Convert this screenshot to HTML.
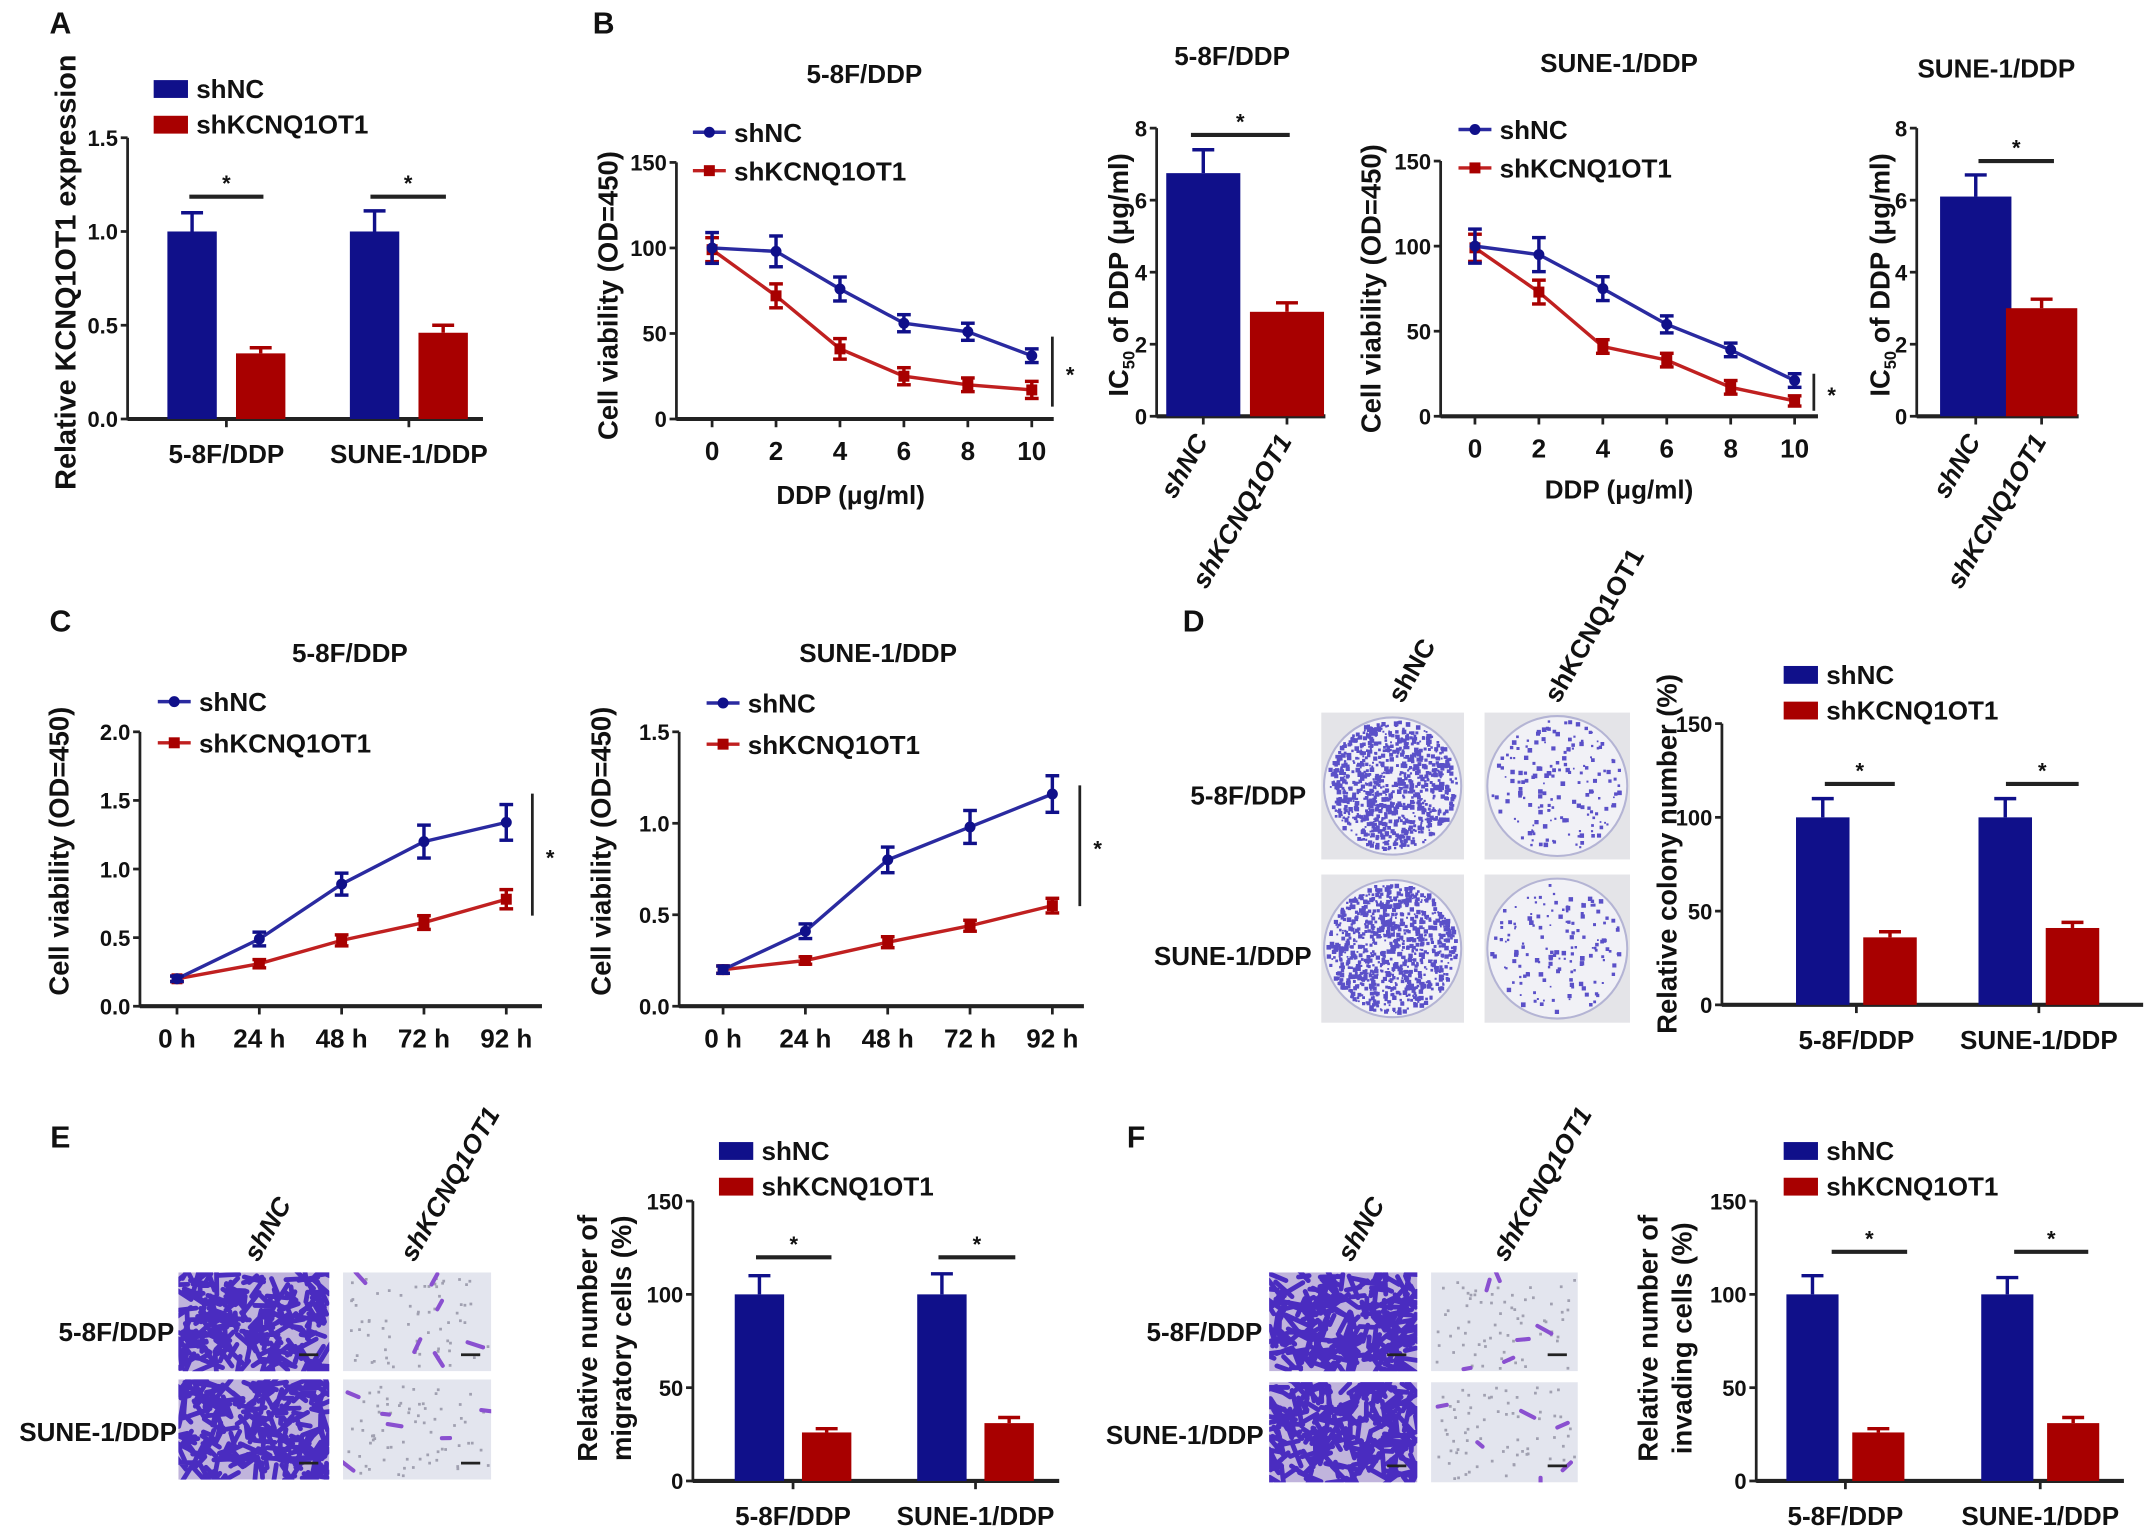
<!DOCTYPE html>
<html><head><meta charset="utf-8">
<style>
html,body{margin:0;padding:0;background:#fff;}
svg{display:block;}
text{font-family:"Liberation Sans Narrow","Liberation Sans",sans-serif;font-weight:bold;fill:#111;}
.wide{font-family:"Liberation Sans",sans-serif;}
</style></head>
<body>
<svg id="fig" xmlns="http://www.w3.org/2000/svg" width="2150" height="1535" viewBox="0 0 1567 1118">
<rect x="0" y="0" width="1567" height="1118" fill="#fff"/>
<defs id="defs"></defs>
</svg>
<script>
// ---------- DATA ----------
const groupLabels = ["5-8F/DDP","SUNE-1/DDP"];
const A_shNC = [1.0, 1.0];
const A_shNC_err = [0.10, 0.11];
const A_shK = [0.35, 0.46];
const A_shK_err = [0.03, 0.04];
const A_ticks = ["0.0","0.5","1.0","1.5"];

const B_dose = ["0","2","4","6","8","10"];
const B1_shNC = [100, 98, 76, 56, 51, 37];
const B1_shNC_err = [9, 9, 7, 5, 5, 4];
const B1_shK = [99, 72, 41, 25, 20, 17];
const B1_shK_err = [7, 7, 6, 5, 4, 5];
const B2_shNC = [100, 95, 75, 54, 39, 21];
const B2_shNC_err = [10, 10, 7, 5, 4, 4];
const B2_shK = [99, 73, 41, 33, 17, 9];
const B2_shK_err = [8, 7, 4, 4, 4, 3];
const B_ticks = ["0","50","100","150"];

const IC_labels = ["shNC","shKCNQ1OT1"];
const IC1_vals = [6.75, 2.9];
const IC1_err = [0.65, 0.25];
const IC2_vals = [6.1, 3.0];
const IC2_err = [0.6, 0.25];
const IC_ticks = ["0","2","4","6","8"];

const C_time = ["0 h","24 h","48 h","72 h","92 h"];
const C1_shNC = [0.2, 0.49, 0.89, 1.2, 1.34];
const C1_shNC_err = [0.02, 0.05, 0.08, 0.12, 0.13];
const C1_shK = [0.2, 0.31, 0.48, 0.61, 0.78];
const C1_shK_err = [0.02, 0.03, 0.04, 0.05, 0.07];
const C1_ticks = ["0.0","0.5","1.0","1.5","2.0"];
const C2_shNC = [0.2, 0.41, 0.8, 0.98, 1.16];
const C2_shNC_err = [0.02, 0.04, 0.07, 0.09, 0.1];
const C2_shK = [0.2, 0.25, 0.35, 0.44, 0.55];
const C2_shK_err = [0.02, 0.02, 0.03, 0.03, 0.04];
const C2_ticks = ["0.0","0.5","1.0","1.5"];

const D_shNC = [100, 100];
const D_shNC_err = [10, 10];
const D_shK = [36, 41];
const D_shK_err = [3, 3];
const E_shNC = [100, 100];
const E_shNC_err = [10, 11];
const E_shK = [26, 31];
const E_shK_err = [2, 3];
const F_shNC = [100, 100];
const F_shNC_err = [10, 9];
const F_shK = [26, 31];
const F_shK_err = [2, 3];
const P_ticks = ["0","50","100","150"];

// ---------- HELPERS ----------
const NS = "http://www.w3.org/2000/svg";
const svg = document.getElementById("fig");
const defs = document.getElementById("defs");
const BLUE = "#10108a", RED = "#a80000", LBLUE="#2a2aa0", LRED="#c02020";
function mk(tag, attrs, name, parent){
  const e = document.createElementNS(NS, tag);
  for (const k in attrs) e.setAttribute(k, attrs[k]);
  
  
  (parent || svg).appendChild(e);
  return e;
}
function txt(x, y, s, size, name, opts){
  opts = opts || {};
  const a = {x:x, y:y, "font-size":size, "text-anchor":opts.anchor||"middle"};
  if (opts.rot !== undefined) a.transform = "rotate("+opts.rot+" "+x+" "+y+")";
  if (opts.cls) a["class"] = opts.cls;
  if (opts.style) a["font-style"] = opts.style;
  const t = mk("text", a, name, opts.parent);
  t.textContent = s;
  return t;
}
function icTitle(x, y, name){
  const t = mk("text",{x:x,y:y,"font-size":20,"text-anchor":"middle","class":"wide",transform:"rotate(-90 "+x+" "+y+")"},name);
  const t1 = document.createElementNS(NS,"tspan"); t1.textContent="IC"; t.appendChild(t1);
  const t2 = document.createElementNS(NS,"tspan"); t2.setAttribute("font-size","12"); t2.setAttribute("dy","5"); t2.textContent="50"; t.appendChild(t2);
  const t3 = document.createElementNS(NS,"tspan"); t3.setAttribute("dy","-5"); t3.textContent=" of DDP (μg/ml)"; t.appendChild(t3);
}
function line(x1,y1,x2,y2,stroke,w,name){
  return mk("line",{x1:x1,y1:y1,x2:x2,y2:y2,stroke:stroke,"stroke-width":w},name);
}
function yAxis(x, yTop, yBot, ticks, size, name){
  line(x, yTop, x, yBot+1, "#222", 2, name+"-line");
  const n = ticks.length;
  for (let i=0;i<n;i++){
    const y = yBot - i*(yBot-yTop)/(n-1);
    line(x-5, y, x, y, "#222", 2, name+"-tick");
    txt(x-7, y+6, ticks[i], size, name+"-tick-label", {anchor:"end"});
  }
}
function sig(x1, x2, y, name){
  line(x1, y, x2, y, "#222", 3, name+"-line");
  txt((x1+x2)/2, y-4, "*", 16, name+"-star");
}
function legendBar(x, y, name){
  mk("rect",{x:x,y:y,width:25,height:13,fill:BLUE},name+"-swatch-shnc");
  txt(x+31, y+13, "shNC", 19, name+"-label-shnc", {anchor:"start"});
  mk("rect",{x:x,y:y+26,width:25,height:13,fill:RED},name+"-swatch-shkcnq1ot1");
  txt(x+31, y+39, "shKCNQ1OT1", 19, name+"-label-shkcnq1ot1", {anchor:"start"});
}
function groupBars(o){
  const sy = v => o.yB - v/o.max*(o.yB-o.yT);
  yAxis(o.x0, o.yT, o.yB, o.ticks, 16, o.name+"-y-axis");
  line(o.x0, o.yB, o.xEnd, o.yB, "#222", 3, o.name+"-x-axis");
  for (let g=0; g<o.a.length; g++){
    const c = o.centers[g];
    const xb = c - o.gap/2 - o.w, xr = c + o.gap/2;
    const sets = [[xb,o.a[g],o.ae[g],BLUE,"shnc"],[xr,o.b[g],o.be[g],RED,"shkcnq1ot1"]];
    for (const s of sets){
      const top = sy(s[1]);
      mk("rect",{x:s[0],y:top,width:o.w,height:o.yB-top,fill:s[3]},o.name+"-bar-"+s[4]+"-"+(g+1));
      const et = sy(s[1]+s[2]), cx = s[0]+o.w/2;
      line(cx, top, cx, et, s[3], 2.5, o.name+"-error-"+s[4]);
      line(cx-8, et, cx+8, et, s[3], 2.5, o.name+"-error-cap");
    }
    line(c, o.yB, c, o.yB+6, "#222", 2, o.name+"-x-tick");
    txt(c, o.yB+32, groupLabels[g], 19, o.name+"-x-label");
    sig(o.sig[g][0], o.sig[g][1], o.sig[g][2], o.name+"-significance");
  }
}
function icBars(o){
  const sy = v => o.yB - v/o.max*(o.yB-o.yT);
  yAxis(o.x0, o.yT, o.yB, IC_ticks, 16, o.name+"-y-axis");
  line(o.x0, o.yB, o.xEnd, o.yB, "#222", 3, o.name+"-x-axis");
  const cols=[BLUE,RED];
  for (let i=0;i<2;i++){
    const c = o.centers[i], top = sy(o.vals[i]);
    mk("rect",{x:c-o.w/2,y:top,width:o.w,height:o.yB-top,fill:cols[i]},o.name+"-bar-"+(i+1));
    const et = sy(o.vals[i]+o.err[i]);
    line(c, top, c, et, cols[i], 2.5, o.name+"-error");
    line(c-8, et, c+8, et, cols[i], 2.5, o.name+"-error-cap");
    line(c, o.yB, c, o.yB+6, "#222", 2, o.name+"-x-tick");
    txt(c+4, o.yB+18, IC_labels[i], 19, o.name+"-x-label", {anchor:"end", rot:-60, style:"italic"});
  }
}
function lineChart(o){
  const n = o.cats.length;
  const sx = i => o.xa + i*(o.xb-o.xa)/(n-1);
  const sy = v => o.yB - v/o.max*(o.yB-o.yT);
  yAxis(o.x0, o.yT, o.yB, o.ticks, 16, o.name+"-y-axis");
  line(o.x0, o.yB, o.xEnd, o.yB, "#222", 3, o.name+"-x-axis");
  for (let i=0;i<n;i++){
    line(sx(i), o.yB, sx(i), o.yB+6, "#222", 2, o.name+"-x-tick");
    txt(sx(i), o.yB+30, o.cats[i], 19, o.name+"-x-tick-label");
  }
  const series = [[o.b,o.be,LRED,RED,"shkcnq1ot1"],[o.a,o.ae,LBLUE,BLUE,"shnc"]];
  for (const s of series){
    let d = "";
    for (let i=0;i<n;i++) d += (i?"L":"M")+sx(i)+","+sy(s[0][i]);
    mk("path",{d:d,fill:"none",stroke:s[2],"stroke-width":2.5},o.name+"-line-"+s[4]);
    for (let i=0;i<n;i++){
      const x=sx(i), y1=sy(s[0][i]+s[1][i]), y2=sy(s[0][i]-s[1][i]);
      line(x,y1,x,y2,s[3],2.5,o.name+"-error-"+s[4]);
      line(x-5,y1,x+5,y1,s[3],2.5,o.name+"-error-cap");
      line(x-5,y2,x+5,y2,s[3],2.5,o.name+"-error-cap");
      if (s[4]==="shnc") mk("circle",{cx:x,cy:sy(s[0][i]),r:4,fill:s[3]},o.name+"-point-shnc");
      else mk("rect",{x:x-4,y:sy(s[0][i])-4,width:8,height:8,fill:s[3]},o.name+"-point-shkcnq1ot1");
    }
  }
  const lx=o.lx, ly=o.ly;
  line(lx-12, ly, lx+12, ly, LBLUE, 2.5, o.name+"-legend-line-shnc");
  mk("circle",{cx:lx,cy:ly,r:4,fill:BLUE},o.name+"-legend-marker-shnc");
  txt(lx+18, ly+7, "shNC", 19, o.name+"-legend-label-shnc", {anchor:"start"});
  line(lx-12, ly+o.lgap, lx+12, ly+o.lgap, LRED, 2.5, o.name+"-legend-line-shkcnq1ot1");
  mk("rect",{x:lx-4,y:ly+o.lgap-4,width:8,height:8,fill:RED},o.name+"-legend-marker-shkcnq1ot1");
  txt(lx+18, ly+o.lgap+7, "shKCNQ1OT1", 19, o.name+"-legend-label-shkcnq1ot1", {anchor:"start"});
  line(o.sx, o.s1, o.sx, o.s2, "#222", 2, o.name+"-significance-line");
  txt(o.sx+13, (o.s1+o.s2)/2+8, "*", 16, o.name+"-significance-star");
}
let seed = 12345;
function rnd(){ seed = (seed*16807) % 2147483647; return seed/2147483647; }
let clipId = 0;
function clipFor(x,y,w,h){
  clipId++;
  const cp = mk("clipPath",{id:"cp"+clipId},"clip",defs);
  mk("rect",{x:x,y:y,width:w,height:h},"clip-rect",cp);
  return "url(#cp"+clipId+")";
}
function dish(x, y, w, h, n, name){
  const g = mk("g",{},name);
  mk("rect",{x:x,y:y,width:w,height:h,fill:"#e4e4e8"},name+"-bg",g);
  const cx=x+w/2, cy=y+h/2, r=Math.min(w,h)/2-2;
  mk("circle",{cx:cx,cy:cy,r:r,fill:"#f1f1f6",stroke:"#b4b4d4","stroke-width":1.5},name+"-plate",g);
  let d="";
  for (let i=0;i<n;i++){
    const a=rnd()*Math.PI*2, rr=Math.sqrt(rnd())*(r-3);
    const px=cx+Math.cos(a)*rr, py=cy+Math.sin(a)*rr, s=0.6+rnd()*1.1;
    d+="M"+(px-s)+","+(py-s)+"h"+(2*s)+"v"+(2*s)+"h"+(-2*s)+"z";
  }
  mk("path",{d:d,fill:"#5a50c8"},name+"-colonies",g);
}
function transwell(x, y, w, h, dense, name){
  const g = mk("g",{"clip-path":clipFor(x,y,w,h)},name);
  mk("rect",{x:x,y:y,width:w,height:h,fill:dense?"#c0b4dc":"#e3e5ee"},name+"-bg",g);
  if(!dense){
    let d2="";
    for (let i=0;i<70;i++){const px=x+3+rnd()*(w-6), py=y+3+rnd()*(h-6); d2+="M"+px+","+py+"h2v2h-2z";}
    mk("path",{d:d2,fill:"#a0a0b0"},name+"-pores",g);
  }
  let d="";
  const n = dense?230:6;
  for (let i=0;i<n;i++){
    const px=x+rnd()*w, py=y+rnd()*h, a=rnd()*Math.PI, L=dense?(3+rnd()*6):(2+rnd()*4);
    d+="M"+(px-Math.cos(a)*L)+","+(py-Math.sin(a)*L)+"L"+(px+Math.cos(a)*L)+","+(py+Math.sin(a)*L);
  }
  mk("path",{d:d,stroke:dense?"#4a2cc0":"#8a50d0","stroke-width":dense?3.5:3,"stroke-linecap":"round",fill:"none"},name+"-cells",g);
  line(x+w-22, y+h-12, x+w-8, y+h-12, "#222", 2, name+"-scale-bar");
}

// ---------- PANEL LABELS ----------
txt(44, 24, "A", 22, "panel-label-a", {cls:"wide"});
txt(440, 24, "B", 22, "panel-label-b", {cls:"wide"});
txt(44, 460, "C", 22, "panel-label-c", {cls:"wide"});
txt(870, 460, "D", 22, "panel-label-d", {cls:"wide"});
txt(44, 836, "E", 22, "panel-label-e", {cls:"wide"});
txt(828, 836, "F", 22, "panel-label-f", {cls:"wide"});

// ---------- PANEL A ----------
legendBar(112, 58, "a-legend");
txt(55, 198, "Relative KCNQ1OT1 expression", 21, "a-y-axis-title", {rot:-90, cls:"wide"});
groupBars({name:"a", x0:93, yT:100, yB:305, max:1.5, ticks:A_ticks, xEnd:352, centers:[165,298], w:36, gap:14,
  a:A_shNC, ae:A_shNC_err, b:A_shK, be:A_shK_err, sig:[[138,192,143],[270,325,143]]});

// ---------- PANEL B ----------
txt(630, 60, "5-8F/DDP", 19, "b1-title");
txt(450, 215, "Cell viability (OD=450)", 20, "b1-y-axis-title", {rot:-90, cls:"wide"});
txt(620, 367, "DDP (μg/ml)", 19, "b1-x-axis-title");
lineChart({name:"b1", x0:493, yT:118, yB:305, max:150, ticks:B_ticks, xEnd:768, xa:519, xb:752, cats:B_dose,
  a:B1_shNC, ae:B1_shNC_err, b:B1_shK, be:B1_shK_err, lx:517, ly:96, lgap:28, sx:767, s1:245, s2:296});

txt(898, 47, "5-8F/DDP", 19, "b2-title");
icTitle(822, 200, "b2-y-axis-title");
icBars({name:"b2", x0:843, yT:93, yB:303, max:8, xEnd:966, centers:[877,938], w:54, vals:IC1_vals, err:IC1_err});
sig(868, 940, 98, "b2-significance");

txt(1180, 52, "SUNE-1/DDP", 19, "b3-title");
txt(1006, 210, "Cell viability (OD=450)", 20, "b3-y-axis-title", {rot:-90, cls:"wide"});
txt(1180, 363, "DDP (μg/ml)", 19, "b3-x-axis-title");
lineChart({name:"b3", x0:1050, yT:117, yB:303, max:150, ticks:B_ticks, xEnd:1325, xa:1075, xb:1308, cats:B_dose,
  a:B2_shNC, ae:B2_shNC_err, b:B2_shK, be:B2_shK_err, lx:1075, ly:94, lgap:28, sx:1322, s1:272, s2:299});

txt(1455, 56, "SUNE-1/DDP", 19, "b4-title");
icTitle(1377, 200, "b4-y-axis-title");
icBars({name:"b4", x0:1397, yT:93, yB:303, max:8, xEnd:1515, centers:[1440,1488], w:52, vals:IC2_vals, err:IC2_err});
sig(1442, 1497, 117, "b4-significance");

// ---------- PANEL C ----------
txt(255, 482, "5-8F/DDP", 19, "c1-title");
txt(50, 620, "Cell viability (OD=450)", 20, "c1-y-axis-title", {rot:-90, cls:"wide"});
lineChart({name:"c1", x0:102, yT:533, yB:733, max:2.0, ticks:C1_ticks, xEnd:395, xa:129, xb:369, cats:C_time,
  a:C1_shNC, ae:C1_shNC_err, b:C1_shK, be:C1_shK_err, lx:127, ly:511, lgap:30, sx:388, s1:578, s2:667});

txt(640, 482, "SUNE-1/DDP", 19, "c2-title");
txt(445, 620, "Cell viability (OD=450)", 20, "c2-y-axis-title", {rot:-90, cls:"wide"});
lineChart({name:"c2", x0:495, yT:533, yB:733, max:1.5, ticks:C2_ticks, xEnd:790, xa:527, xb:767, cats:C_time,
  a:C2_shNC, ae:C2_shNC_err, b:C2_shK, be:C2_shK_err, lx:527, ly:512, lgap:30, sx:787, s1:572, s2:660});

// ---------- PANEL D ----------
dish(963, 519, 104, 107, 900, "d-dish-5-8f-shnc");
dish(1082, 519, 106, 107, 170, "d-dish-5-8f-shkcnq1ot1");
dish(963, 637, 104, 108, 900, "d-dish-sune1-shnc");
dish(1082, 637, 106, 108, 150, "d-dish-sune1-shkcnq1ot1");
txt(952, 586, "5-8F/DDP", 19, "d-row-label-5-8f", {anchor:"end"});
txt(956, 703, "SUNE-1/DDP", 19, "d-row-label-sune1", {anchor:"end"});
txt(1022, 513, "shNC", 19, "d-col-label-shnc", {anchor:"start", rot:-60});
txt(1136, 513, "shKCNQ1OT1", 19, "d-col-label-shkcnq1ot1", {anchor:"start", rot:-60});
legendBar(1300, 485, "d-legend");
txt(1222, 622, "Relative colony number (%)", 20, "d-y-axis-title", {rot:-90, cls:"wide"});
groupBars({name:"d", x0:1255, yT:527, yB:732, max:150, ticks:P_ticks, xEnd:1562, centers:[1353,1486], w:39, gap:10,
  a:D_shNC, ae:D_shNC_err, b:D_shK, be:D_shK_err, sig:[[1330,1381,571],[1462,1515,571]]});

// ---------- PANEL E ----------
transwell(130, 927, 110, 72, true, "e-image-5-8f-shnc");
transwell(250, 927, 108, 72, false, "e-image-5-8f-shkcnq1ot1");
transwell(130, 1005, 110, 73, true, "e-image-sune1-shnc");
transwell(250, 1005, 108, 73, false, "e-image-sune1-shkcnq1ot1");
txt(127, 977, "5-8F/DDP", 19, "e-row-label-5-8f", {anchor:"end"});
txt(129, 1050, "SUNE-1/DDP", 19, "e-row-label-sune1", {anchor:"end"});
txt(188, 920, "shNC", 19, "e-col-label-shnc", {anchor:"start", rot:-60, style:"italic"});
txt(302, 920, "shKCNQ1OT1", 19, "e-col-label-shkcnq1ot1", {anchor:"start", rot:-60, style:"italic"});
legendBar(524, 832, "e-legend");
txt(435, 975, "Relative number of", 20, "e-y-axis-title-1", {rot:-90, cls:"wide"});
txt(460, 975, "migratory cells (%)", 20, "e-y-axis-title-2", {rot:-90, cls:"wide"});
groupBars({name:"e", x0:505, yT:875, yB:1079, max:150, ticks:P_ticks, xEnd:772, centers:[578,711], w:36, gap:13,
  a:E_shNC, ae:E_shNC_err, b:E_shK, be:E_shK_err, sig:[[551,606,916],[684,740,916]]});

// ---------- PANEL F ----------
transwell(925, 927, 108, 72, true, "f-image-5-8f-shnc");
transwell(1043, 927, 107, 72, false, "f-image-5-8f-shkcnq1ot1");
transwell(925, 1007, 108, 73, true, "f-image-sune1-shnc");
transwell(1043, 1007, 107, 73, false, "f-image-sune1-shkcnq1ot1");
txt(920, 977, "5-8F/DDP", 19, "f-row-label-5-8f", {anchor:"end"});
txt(921, 1052, "SUNE-1/DDP", 19, "f-row-label-sune1", {anchor:"end"});
txt(985, 920, "shNC", 19, "f-col-label-shnc", {anchor:"start", rot:-60, style:"italic"});
txt(1098, 920, "shKCNQ1OT1", 19, "f-col-label-shkcnq1ot1", {anchor:"start", rot:-60, style:"italic"});
legendBar(1300, 832, "f-legend");
txt(1208, 975, "Relative number of", 20, "f-y-axis-title-1", {rot:-90, cls:"wide"});
txt(1233, 975, "invading cells (%)", 20, "f-y-axis-title-2", {rot:-90, cls:"wide"});
groupBars({name:"f", x0:1280, yT:875, yB:1079, max:150, ticks:P_ticks, xEnd:1548, centers:[1345,1487], w:38, gap:10,
  a:F_shNC, ae:F_shNC_err, b:F_shK, be:F_shK_err, sig:[[1335,1390,912],[1468,1522,912]]});
</script>
</body></html>
